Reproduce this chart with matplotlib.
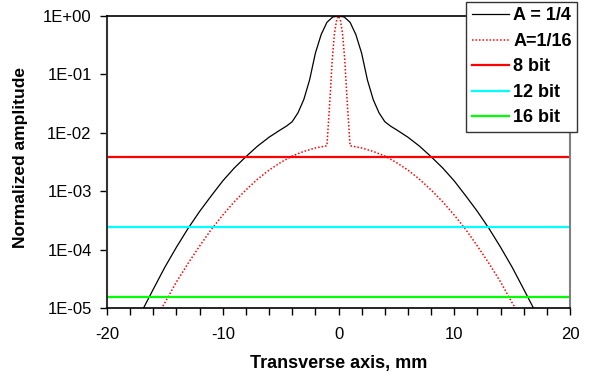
import matplotlib
matplotlib.use("Agg")
import matplotlib.pyplot as plt
from matplotlib.ticker import FixedLocator, NullLocator, FuncFormatter, MultipleLocator

plt.rcParams['font.family'] = ['Liberation Sans', 'DejaVu Sans']
plt.rcParams['axes.unicode_minus'] = False

# Curve A = 1/4 (black solid)
x_a4 = [-17, -16, -15, -14, -13, -12, -11, -10, -9, -8, -7, -6, -5, -4.5, -4, -3.5, -3, -2.5, -2, -1.5, -1, -0.5, 0,
        0.5, 1, 1.5, 2, 2.5, 3, 3.5, 4, 4.5, 5, 6, 7, 8, 9, 10, 11, 12, 13, 14, 15, 16, 17]
y_a4 = [8.7e-6, 2.1e-5, 5.0e-5, 1.1e-4, 2.3e-4, 4.5e-4, 8.3e-4, 1.5e-3, 2.5e-3, 3.9e-3, 5.9e-3, 8.4e-3, 1.13e-2,
        1.3e-2, 1.55e-2, 2.2e-2, 3.7e-2, 8.0e-2, 0.23, 0.48, 0.78, 0.96, 1.0,
        0.96, 0.78, 0.48, 0.23, 8.0e-2, 3.7e-2, 2.2e-2, 1.55e-2, 1.3e-2, 1.13e-2, 8.4e-3, 5.9e-3, 3.9e-3,
        2.5e-3, 1.5e-3, 8.3e-4, 4.5e-4, 2.3e-4, 1.1e-4, 5.0e-5, 2.1e-5, 8.7e-6]

# Curve A = 1/16 (red dotted)
x_a16 = [-15.5, -15, -14, -13, -12, -11, -10, -9, -8, -7, -6, -5, -4, -3, -2, -1, -0.85, -0.7, -0.55, -0.35, -0.15, 0,
         0.15, 0.35, 0.55, 0.7, 0.85, 1, 2, 3, 4, 5, 6, 7, 8, 9, 10, 11, 12, 13, 14, 15, 15.5]
y_a16 = [8.5e-6, 1.23e-5, 2.8e-5, 5.8e-5, 1.15e-4, 2.2e-4, 3.9e-4, 6.6e-4, 1.05e-3, 1.6e-3, 2.3e-3, 3.1e-3, 4.0e-3,
         4.8e-3, 5.5e-3, 6.0e-3, 1.7e-2, 5.0e-2, 0.17, 0.5, 0.88, 1.0,
         0.88, 0.5, 0.17, 5.0e-2, 1.7e-2, 6.0e-3, 5.5e-3, 4.8e-3, 4.0e-3, 3.1e-3, 2.3e-3, 1.6e-3, 1.05e-3,
         6.6e-4, 3.9e-4, 2.2e-4, 1.15e-4, 5.8e-5, 2.8e-5, 1.23e-5, 8.5e-6]

# Quantisation levels
bit_labels = ['8 bit', '12 bit', '16 bit']
bit_levels = [3.9e-3, 2.44e-4, 1.53e-5]
bit_colors = ['#FF0000', '#00FFFF', '#00FF00']

x_ticks = [-20, -10, 0, 10, 20]
y_ticks = [1e-5, 1e-4, 1e-3, 1e-2, 1e-1, 1e0]

fig = plt.figure(figsize=(5.92, 3.78), dpi=100)
ax = fig.add_axes([107/592, 1-308/378, (570-107)/592, (308-16)/378])

ax.plot(x_a4, y_a4, color='black', lw=0.9, label='A = 1/4')
ax.plot(x_a16, y_a16, color='#FF0000', lw=1.1, linestyle=(0, (1, 1.3)), label='A=1/16')
for lab, lev, col in zip(bit_labels, bit_levels, bit_colors):
    ax.axhline(lev, color=col, lw=1.6, label=lab)

ax.set_yscale('log')
ax.set_xlim(-20, 20)
ax.set_ylim(1e-5, 1.0)
ax.yaxis.set_major_locator(FixedLocator(y_ticks))
ax.yaxis.set_minor_locator(NullLocator())
ax.yaxis.set_major_formatter(FuncFormatter(lambda v, p: f"{v:.0E}"))
ax.xaxis.set_major_locator(FixedLocator(x_ticks))
ax.xaxis.set_minor_locator(MultipleLocator(2))

ax.tick_params(axis='both', which='both', direction='out', length=5, width=1, labelsize=12, color='black')
ax.tick_params(axis='x', pad=9)
ax.tick_params(axis='y', pad=6)

ax.spines['left'].set_color('#333333')
ax.spines['left'].set_linewidth(1.5)
ax.spines['bottom'].set_color('black')
ax.spines['bottom'].set_linewidth(1.2)
ax.spines['top'].set_color('black')
ax.spines['top'].set_linewidth(1.2)
ax.spines['right'].set_color('#808080')
ax.spines['right'].set_linewidth(1.5)

ax.set_xlabel('Transverse axis, mm', fontsize=13, fontweight='bold')
ax.set_ylabel('Normalized amplitude', fontsize=12.5, fontweight='bold')
ax.xaxis.set_label_coords(0.5, (308-355)/292)
ax.yaxis.set_label_coords((28-107)/463, (308-157)/292)

leg = ax.legend(loc='upper right', bbox_to_anchor=(577/592, 1-2/378), bbox_transform=fig.transFigure,
                prop={'weight': 'bold', 'size': 13}, frameon=True, fancybox=False, shadow=False,
                framealpha=1, edgecolor='#333333', handlelength=2.05, handletextpad=0.25,
                labelspacing=0.47, borderpad=0.3, borderaxespad=0)
leg.get_frame().set_linewidth(1.0)
leg.set_zorder(10)

fig.savefig('out.png', dpi=100)
